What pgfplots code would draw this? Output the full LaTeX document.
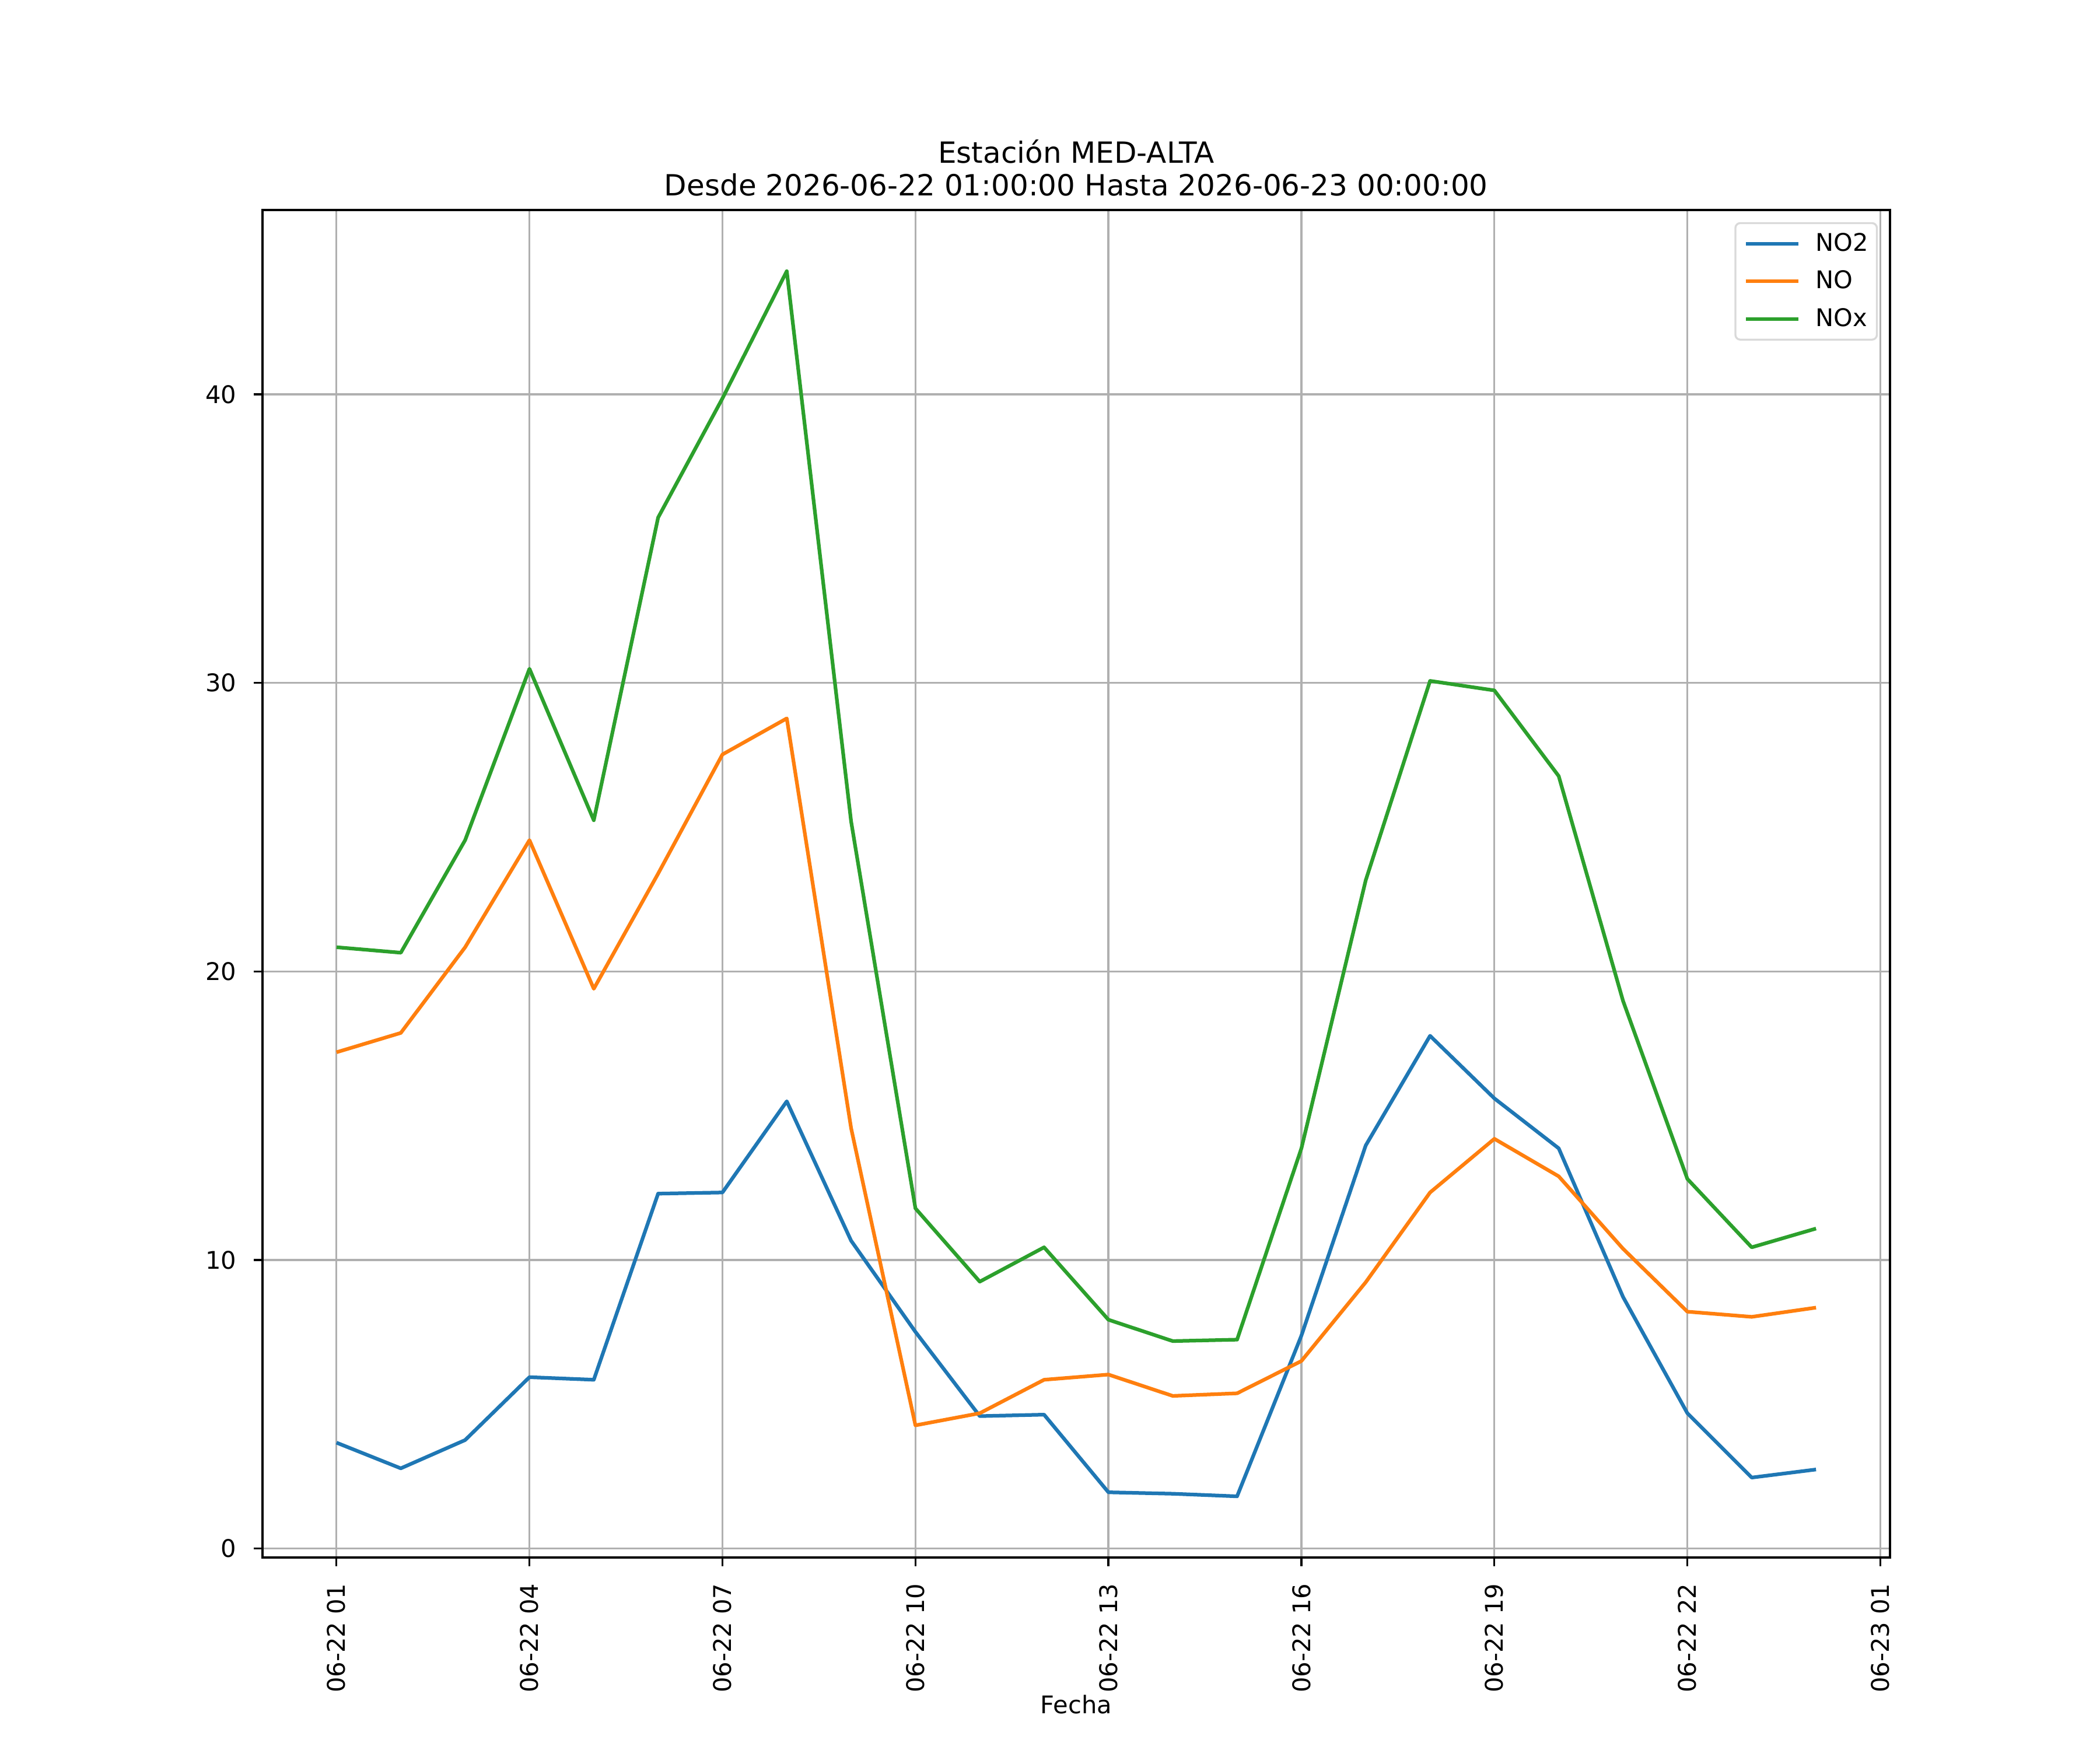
\documentclass[border=0pt]{standalone}
\usepackage{fontspec}
\setmainfont{DejaVu Sans}
\usepackage{pgfplots}
\usepackage{pgfplotstable}
\pgfplotsset{compat=1.18}
\definecolor{c0}{HTML}{1F77B4}
\definecolor{c1}{HTML}{FF7F0E}
\definecolor{c2}{HTML}{2CA02C}
\newcommand{\tfont}{\fontsize{10bp}{12bp}\selectfont}
\pgfplotstableread{
x NOtwo NO NOx
1 3.67 17.20 20.84
2 2.78 17.87 20.65
3 3.76 20.84 24.55
4 5.94 24.55 30.49
5 5.85 19.40 25.24
6 12.30 23.39 35.73
7 12.34 27.52 39.86
8 15.50 28.77 44.27
9 10.67 14.57 25.20
10 7.51 4.27 11.79
11 4.59 4.69 9.25
12 4.64 5.85 10.44
13 1.95 6.03 7.93
14 1.90 5.29 7.19
15 1.81 5.38 7.24
16 7.38 6.50 13.87
17 13.97 9.23 23.16
18 17.77 12.34 30.07
19 15.60 14.20 29.74
20 13.87 12.90 26.77
21 8.72 10.39 18.98
22 4.69 8.21 12.81
23 2.46 8.03 10.44
24 2.74 8.35 11.09
}\datatable
\begin{document}
\begin{tikzpicture}
\path[use as bounding box] (-1.5in,-1.1in) rectangle (10.5in,8.9in);
\begin{axis}[
  scale only axis,
  width=9.3in, height=7.7in,
  xmin=-0.15, xmax=25.15,
  ymin=-0.31, ymax=46.39,
  xtick={1,4,7,10,13,16,19,22,25},
  xticklabels={06-22 01,06-22 04,06-22 07,06-22 10,06-22 13,06-22 16,06-22 19,06-22 22,06-23 01},
  ytick={0,10,20,30,40},
  tick pos=left,
  tick align=outside,
  major tick length=3.5bp,
  every tick/.style={black, line width=0.8bp},
  axis line style={line width=0.8bp, black},
  grid=major,
  major grid style={color=black!31, line width=0.8bp},
  /pgf/number format/assume math mode=true,
  xticklabel style={rotate=90, anchor=east, inner sep=0pt, font=\tfont},
  yticklabel style={anchor=east, inner sep=0pt, font=\tfont},
  xticklabel shift=7bp,
  yticklabel shift=7bp,
  xlabel={Fecha},
  xlabel style={at={(axis description cs:0.5,0)}, anchor=base, yshift=-64.1bp, inner sep=0pt, font=\tfont},
  title={Estación MED-ALTA\\Desde 2026-06-22 01:00:00 Hasta 2026-06-23 00:00:00},
  title style={at={(axis description cs:0.5,1)}, anchor=south, yshift=-0.5bp, inner sep=0pt, align=center, font=\fontsize{12bp}{13.5bp}\selectfont},
  legend style={at={(rel axis cs:1,1)}, anchor=north east, xshift=-5bp, yshift=-5bp,
    draw=black!15, line width=0.8bp, rounded corners=2bp, fill=white,
    inner xsep=3.6bp, inner ysep=4bp,
    nodes={inner sep=0pt, font=\tfont},
    row sep=6.6bp, column sep=6.2bp},
  legend cell align=left,
  legend image code/.code={\draw[#1, line width=1.5bp] (0bp,0bp) -- (21.6bp,0bp);},
]
\addplot[c0, line width=1.5bp, line join=round, mark=none] table[x=x, y=NOtwo] {\datatable};
\addlegendentry{NO2}
\addplot[c1, line width=1.5bp, line join=round, mark=none] table[x=x, y=NO] {\datatable};
\addlegendentry{NO}
\addplot[c2, line width=1.5bp, line join=round, mark=none] table[x=x, y=NOx] {\datatable};
\addlegendentry{NOx}
\end{axis}
\end{tikzpicture}
\end{document}
